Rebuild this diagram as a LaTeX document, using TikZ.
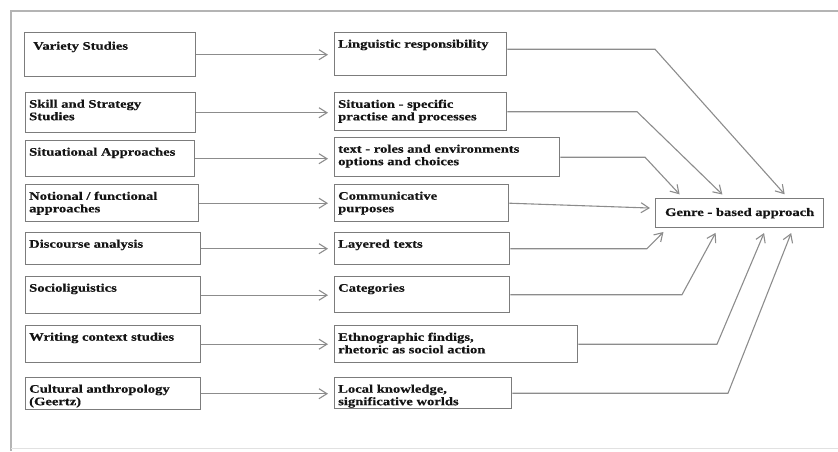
\documentclass[tikz,border=0pt]{standalone}
\usepackage{fontspec}
\usepackage{tikz}
\usetikzlibrary{arrows.meta, calc}
\newfontfamily\diagfont[FakeStretch=1.27, FakeBold=0.5]{Liberation Serif}
\definecolor{framegray}{HTML}{B4B4B4}
\definecolor{boxgray}{HTML}{7C7C7C}
\definecolor{linkgray}{HTML}{8C8C8C}
\definecolor{ink}{HTML}{141414}
\tikzset{
  srcbox/.style   = {rectangle, draw=boxgray, line width=1.4pt, anchor=north west,
                      inner sep=0pt, fill=white},
  boxtext/.style  = {anchor=north west, inner sep=0pt, align=left, text=ink,
                      font=\diagfont\bfseries\fontsize{11.5}{12.5}\selectfont,
                      xshift=4pt, yshift=-7.5pt},
  genrebox/.style = {rectangle, draw=boxgray, line width=1.4pt, anchor=north west,
                      inner sep=0pt, text=ink,
                      font=\diagfont\bfseries\fontsize{11.5}{12.5}\selectfont},
  link/.style     = {-{Straight Barb[length=8pt, width=10pt]}, line width=1.1pt,
                      draw=linkgray, shorten >=6pt},
  feed/.style     = {-{Straight Barb[length=8pt, width=10pt]}, line width=1.1pt,
                      draw=linkgray, shorten >=5pt},
}
\begin{document}
\begin{tikzpicture}[x=1pt, y=-1pt]
  \useasboundingbox (0,0) rectangle (838,451);
  \draw[framegray, line width=1.2pt] (850,11) -- (11,11) -- (11,451);
  \draw[framegray!40, line width=1pt] (11,448) -- (850,448);

  % research traditions
  \node[srcbox, minimum width=171pt, minimum height=44pt,
        label={[boxtext, xshift=5pt, yshift=-2pt]north west:Variety Studies}] (variety) at (24,32) {};
  \node[srcbox, minimum width=170pt, minimum height=40pt,
        label={[boxtext]north west:{Skill and Strategy\\Studies}}] (skill) at (25,92) {};
  \node[srcbox, minimum width=169pt, minimum height=36pt,
        label={[boxtext]north west:Situational Approaches}] (situational) at (25,140) {};
  \node[srcbox, minimum width=173pt, minimum height=37pt,
        label={[boxtext]north west:{Notional / functional\\approaches}}] (notional) at (25,184) {};
  \node[srcbox, minimum width=175pt, minimum height=32pt,
        label={[boxtext]north west:Discourse analysis}] (discourse) at (25,232) {};
  \node[srcbox, minimum width=175pt, minimum height=37pt,
        label={[boxtext]north west:Socioliguistics}] (socio) at (25,276) {};
  \node[srcbox, minimum width=175pt, minimum height=37pt,
        label={[boxtext]north west:Writing context studies}] (writing) at (25,325) {};
  \node[srcbox, minimum width=175pt, minimum height=32pt,
        label={[boxtext]north west:{Cultural anthropology\\(Geertz)}}] (cultural) at (25,377) {};

  % contributions
  \node[srcbox, minimum width=172pt, minimum height=43pt,
        label={[boxtext]north west:Linguistic responsibility}] (lingu) at (334,32) {};
  \node[srcbox, minimum width=172pt, minimum height=38pt,
        label={[boxtext]north west:{Situation - specific\\practise and processes}}] (situation) at (334,92) {};
  \node[srcbox, minimum width=225pt, minimum height=39pt,
        label={[boxtext]north west:{text - roles and environments\\options and choices}}] (roles) at (334,137) {};
  \node[srcbox, minimum width=174pt, minimum height=37pt,
        label={[boxtext]north west:{Communicative\\purposes}}] (commun) at (334,184) {};
  \node[srcbox, minimum width=175pt, minimum height=32pt,
        label={[boxtext]north west:Layered texts}] (layered) at (334,232) {};
  \node[srcbox, minimum width=175pt, minimum height=36pt,
        label={[boxtext]north west:Categories}] (categ) at (334,276) {};
  \node[srcbox, minimum width=243pt, minimum height=37pt,
        label={[boxtext]north west:{Ethnographic findigs,\\rhetoric as sociol action}}] (ethno) at (334,325) {};
  \node[srcbox, minimum width=177pt, minimum height=31pt,
        label={[boxtext]north west:{Local knowledge,\\significative worlds}}] (local) at (334,377) {};

  \node[genrebox, minimum width=168pt, minimum height=29pt] (genre) at (655,198) {Genre - based approach};

  % left to middle
  \foreach \src/\dst in {variety/lingu, skill/situation, situational/roles, notional/commun,
                         discourse/layered, socio/categ, writing/ethno, cultural/local}
    \draw[link] (\src.east) -- (\src.east -| \dst.west);

  % middle to genre
  \draw[feed] ([yshift=5pt]lingu.east) -- ([yshift=5pt]lingu.east -| 655,0) -- ([xshift=133pt]genre.north west);
  \draw[feed] (situation.east) -- (situation.east -| 637,0) -- ([xshift=71pt]genre.north west);
  \draw[feed] (roles.east) -- (roles.east -| 645,0) -- ([xshift=28pt]genre.north west);
  \draw[feed] (commun.east) -- ([yshift=5pt]genre.west);
  \draw[feed] (layered.east) -- (layered.east -| 647,0) -- ([xshift=12pt]genre.south west);
  \draw[feed] (categ.east) -- (categ.east -| 682,0) -- ([xshift=63pt]genre.south west);
  \draw[feed] (ethno.east) -- (ethno.east -| 717,0) -- ([xshift=111pt]genre.south west);
  \draw[feed] (local.east) -- (local.east -| 728,0) -- ([xshift=138pt]genre.south west);
\end{tikzpicture}
\end{document}
